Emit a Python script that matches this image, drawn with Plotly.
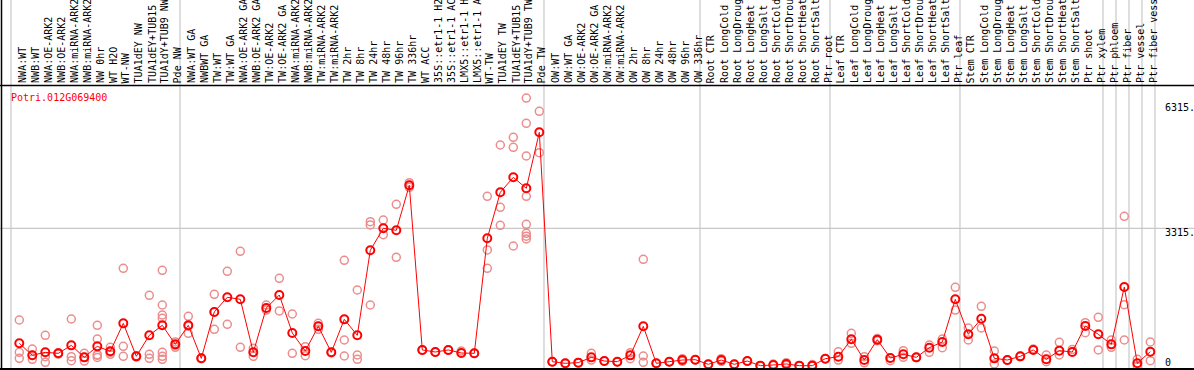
import plotly.graph_objects as go

gene = "Potri.012G069400"

labels = [
    "NWA:WT", "NWB:WT", "NWA:OE-ARK2", "NWB:OE-ARK2", "NWA:miRNA-ARK2", "NWB:miRNA-ARK2",
    "NW 0hr", "WT H2O", "WT-NW", "TUA1dEY NW", "TUA1dEY+TUB15", "TUA1dY+TUB9 NW", "Pde NW",
    "NWA:WT GA", "NWBWT GA", "TW:WT", "TW:WT GA", "NWA:OE-ARK2 GA", "NWB:OE-ARK2 GA",
    "TW:OE-ARK2", "TW:OE-ARK2 GA", "NWA:miRNA-ARK2", "NWB:miRNA-ARK2", "TW:miRNA-ARK2",
    "TW:miRNA-ARK2", "TW 2hr", "TW 8hr", "TW 24hr", "TW 48hr", "TW 96hr", "TW 336hr",
    "WT ACC", "35S::etr1-1 H2O", "35S::etr1-1 ACC", "LMX5::etr1-1 H2O", "LMX5::etr1-1 ACC",
    "WT-TW", "TUA1dEY TW", "TUA1dEY+TUB15", "TUA1dY+TUB9 TW", "Pde TW",
    "OW:WT", "OW:WT GA", "OW:OE-ARK2", "OW:OE-ARK2 GA", "OW:miRNA-ARK2", "OW:miRNA-ARK2",
    "OW 2hr", "OW 8hr", "OW 24hr", "OW 48hr", "OW 96hr", "OW 336hr",
    "Root CTR", "Root LongCold", "Root LongDrought", "Root LongHeat", "Root LongSalt",
    "Root ShortCold", "Root ShortDrought", "Root ShortHeat", "Root ShortSalt", "Ptr root",
    "Leaf CTR", "Leaf LongCold", "Leaf LongDrought", "Leaf LongHeat", "Leaf LongSalt",
    "Leaf ShortCold", "Leaf ShortDrought", "Leaf ShortHeat", "Leaf ShortSalt", "Ptr leaf",
    "Stem CTR", "Stem LongCold", "Stem LongDrought", "Stem LongHeat", "Stem LongSalt",
    "Stem ShortCold", "Stem ShortDrought", "Stem ShortHeat", "Stem ShortSalt", "Ptr shoot",
    "Ptr xylem", "Ptr phloem", "Ptr fiber", "Ptr vessel", "Ptr fiber vessel",
]

means = [
    567, 280, 351, 327, 518, 231, 494, 375, 1044, 255, 758, 997, 542,
    997, 208, 1316, 1667, 1619, 351, 1411, 1722, 813, 383, 973, 351, 1140, 758,
    2791, 3318, 3270, 4346, 407, 359, 407, 335, 327, 3078, 4178, 4537, 4274, 5614,
    127, 88, 104, 231, 143, 127, 279, 973, 88, 127, 167, 175,
    64, 167, 64, 143, 32, 48, 72, 32, 32, 199,
    247, 662, 167, 654, 215, 303, 231, 462, 598, 1619,
    782, 1156, 207, 167, 255, 407, 184, 391, 359, 981,
    782, 542, 1914, 88, 366,
]

replicates = [
    [1124, 351, 208], [430, 184, 280], [758, 247, 112], [343, 320, 310], [1148, 247, 151],
    [327, 143, 231], [997, 670, 296, 280, 227], [470, 351, 303], [2360, 494, 255],
    [270, 255, 240], [1715, 303, 207], [2313, 1483, 1244, 1164, 351, 255, 184],
    [600, 518, 470], [1212, 805, 975], [215, 208, 200], [1738, 1316, 901], [2288, 1021],
    [2767, 470], [447, 255], [1483, 1363], [2121, 1340], [1268, 327], [486, 271],
    [1045, 973, 900], [351, 340], [2552, 646, 263], [1842, 287, 184], [3476, 3397, 1483],
    [3516, 3165], [3892, 2624], [4409, 4298, 4346], [407, 400], [359, 350], [407, 400],
    [383, 335], [327, 320], [4083, 2799, 2360], [5310, 3820, 3389], [5494, 5255, 2894],
    [6434, 5829, 5047, 4083, 3413, 3198, 3130, 3062], [6116, 5126],
    [127, 120], [88, 80], [104, 100], [327, 167], [143, 140], [127, 120], [343, 199],
    [2576, 263, 112], [88, 85], [127, 120], [199, 135], [175, 170],
    [64, 60], [199, 135], [64, 60], [143, 140], [32, 30], [72, 40], [72, 104, 40],
    [32, 30], [60, 30], [199, 195],
    [366, 167], [805, 566], [247, 100], [680, 630], [215, 150], [391, 231], [231, 225],
    [526, 351], [670, 462], [1906, 1363],
    [933, 646], [1451, 933], [383, 72], [167, 160], [255, 250], [430, 407], [287, 127],
    [590, 287], [420, 359], [1060, 821],
    [1189, 407], [646, 470], [3605, 1491, 646], [184, 24], [598, 151],
]

axis_ticks = [6315, 3315, 0]
axis_tick_text = ["6315.", "3315.", "0"]
group_ends = [-1, 12, 40, 52, 62, 72, 83, 84, 85, 86, 87]

W, H = 1194, 370
X0, DX = 19.3, 13.0          # pixel of first column, column step
Y0, UPP = 367.0, 23.92       # pixel of value 0, units per pixel

xr = [(0 - X0) / DX, (W - X0) / DX]
yr = [(Y0 - H) * UPP, Y0 * UPP]

def py(p):
    return 1 - p / H

rx, ry = [], []
for i, reps in enumerate(replicates):
    for v in reps:
        rx.append(i)
        ry.append(v)

idx = list(range(len(labels)))

fig = go.Figure()
fig.add_trace(go.Scatter(x=rx, y=ry, mode="markers",
                         marker=dict(symbol="circle-open", size=8, color="rgb(236,140,140)",
                                     line=dict(width=1.5)),
                         hoverinfo="skip", showlegend=False))
fig.add_trace(go.Scatter(x=idx, y=means, mode="lines+markers",
                         line=dict(color="red", width=1),
                         marker=dict(symbol="circle-open", size=8, color="red",
                                     line=dict(width=2)),
                         showlegend=False))

shapes = []
for g in group_ends:
    shapes.append(dict(type="line", xref="x", yref="paper", x0=g + 0.36, x1=g + 0.36,
                       y0=0, y1=1, line=dict(color="rgb(200,200,200)", width=1.2), layer="below"))
shapes.append(dict(type="line", xref="paper", yref="y", x0=0, x1=1, y0=3315, y1=3315,
                   line=dict(color="rgb(200,200,200)", width=1.2), layer="below"))
shapes.append(dict(type="line", xref="paper", yref="paper", x0=0, x1=1, y0=py(85.5), y1=py(85.5),
                   line=dict(color="black", width=1.5)))
shapes.append(dict(type="line", xref="paper", yref="paper", x0=0, x1=1, y0=py(369), y1=py(369),
                   line=dict(color="black", width=2)))
shapes.append(dict(type="line", xref="paper", yref="paper", x0=1.5 / W, x1=1.5 / W, y0=0, y1=1,
                   line=dict(color="black", width=1.5)))

mono = "DejaVu Sans Mono"
ann = []
for i, lab in enumerate(labels):
    ann.append(dict(x=i + 0.2, xref="x", y=py(84), yref="paper", text=lab, textangle=-90,
                    xanchor="center", yanchor="bottom", showarrow=False, borderpad=0,
                    font=dict(family=mono, size=10, color="black")))
ann.append(dict(x=9 / W, xref="paper", y=py(97), yref="paper", text=gene, showarrow=False,
                xanchor="left", yanchor="middle", font=dict(family=mono, size=10, color="red")))
tick_py = {6315: 107.5, 3315: 232.5, 0: 362}
for v, t in zip(axis_ticks, axis_tick_text):
    ann.append(dict(x=1163 / W, xref="paper", y=py(tick_py[v]), yref="paper", text=t,
                    showarrow=False, xanchor="left", yanchor="middle",
                    font=dict(family=mono, size=10, color="black")))

fig.update_layout(
    width=W, height=H, autosize=False,
    margin=dict(l=0, r=0, t=0, b=0, pad=0),
    paper_bgcolor="white", plot_bgcolor="white",
    xaxis=dict(range=xr, visible=False, showgrid=False, zeroline=False, fixedrange=True),
    yaxis=dict(range=yr, visible=False, showgrid=False, zeroline=False, fixedrange=True),
    shapes=shapes, annotations=ann,
)

fig.write_html("out.html", config={"displayModeBar": False},
               post_script="document.body.style.margin='0';document.body.style.overflow='hidden';")
